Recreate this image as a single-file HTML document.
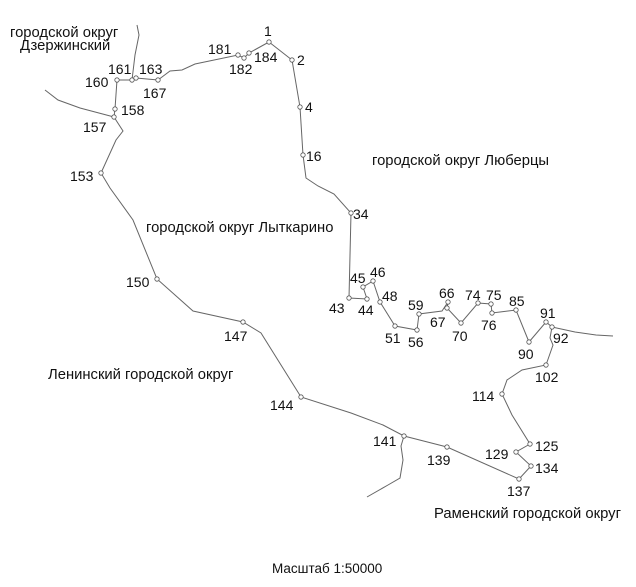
<!DOCTYPE html>
<html><head><meta charset="utf-8"><style>
html,body{margin:0;padding:0;background:#fff;}
svg{display:block;}
text{font-family:"Liberation Sans",Arial,sans-serif;fill:#111;}
.n{font-size:14px;}
.r{font-size:14.8px;}
</style></head><body>
<svg width="636" height="587" viewBox="0 0 636 587" xmlns="http://www.w3.org/2000/svg">
<g fill="none" stroke="#666" stroke-width="1">
<polyline points="269,42 292,60 300,107 303,155 306,178 318,186 334,194 351,213 349,298 367,299 363,287 373,281 380,302 395,326 417,330 419,314 442,311 448,302 447,308 461,323 478,303 491,304 492,313 500,312 516,310 529,342 546,322 552,327 550,338 553,345 546,365 522,370 507,380 502,394 512,415 530,444 516,452 531,466 519,479 447,447 404,436 383,425 351,413 301,397 261,333 243,322 193,311 157,279 133,220 110,188 101,173 116,140 123,131 114,117 115,109 117,80 132,80 136,78 158,80 170,71 182,70 195,64 238,55 244,58 249,53 269,42"/>
<polyline points="137,25 139,35 135,55 132,80"/>
<polyline points="45,90 58,100 80,108 114,117"/>
<polyline points="552,327 575,332 596,335 613,336"/>
<polyline points="404,436 401,446 403,460 400,478 388,485 367,497"/>
</g>
<g fill="#fff" stroke="#555" stroke-width="0.8">
<circle cx="269" cy="42" r="2.2"/><circle cx="292" cy="60" r="2.2"/><circle cx="300" cy="107" r="2.2"/><circle cx="303" cy="155" r="2.2"/><circle cx="351" cy="213" r="2.2"/>
<circle cx="349" cy="298" r="2.2"/><circle cx="367" cy="299" r="2.2"/><circle cx="363" cy="287" r="2.2"/><circle cx="373" cy="281" r="2.2"/><circle cx="380" cy="302" r="2.2"/>
<circle cx="395" cy="326" r="2.2"/><circle cx="417" cy="330" r="2.2"/><circle cx="419" cy="314" r="2.2"/><circle cx="448" cy="302" r="2.2"/><circle cx="447" cy="308" r="2.2"/>
<circle cx="461" cy="323" r="2.2"/><circle cx="478" cy="303" r="2.2"/><circle cx="491" cy="304" r="2.2"/><circle cx="492" cy="313" r="2.2"/><circle cx="516" cy="310" r="2.2"/>
<circle cx="529" cy="342" r="2.2"/><circle cx="546" cy="322" r="2.2"/><circle cx="552" cy="327" r="2.2"/><circle cx="546" cy="365" r="2.2"/><circle cx="502" cy="394" r="2.2"/>
<circle cx="530" cy="444" r="2.2"/><circle cx="516" cy="452" r="2.2"/><circle cx="531" cy="466" r="2.2"/><circle cx="519" cy="479" r="2.2"/><circle cx="447" cy="447" r="2.2"/>
<circle cx="404" cy="436" r="2.2"/><circle cx="301" cy="397" r="2.2"/><circle cx="243" cy="322" r="2.2"/><circle cx="157" cy="279" r="2.2"/><circle cx="101" cy="173" r="2.2"/>
<circle cx="114" cy="117" r="2.2"/><circle cx="115" cy="109" r="2.2"/><circle cx="117" cy="80" r="2.2"/><circle cx="132" cy="80" r="2.2"/><circle cx="136" cy="78" r="2.2"/>
<circle cx="158" cy="80" r="2.2"/><circle cx="238" cy="55" r="2.2"/><circle cx="244" cy="58" r="2.2"/><circle cx="249" cy="53" r="2.2"/>
</g>
<g class="n">
<text x="264" y="36">1</text><text x="297" y="65">2</text><text x="305" y="112">4</text><text x="306" y="161">16</text><text x="353" y="219">34</text>
<text x="329" y="313">43</text><text x="358" y="315">44</text><text x="350" y="283">45</text><text x="370" y="277">46</text><text x="382" y="301">48</text>
<text x="385" y="343">51</text><text x="408" y="347">56</text><text x="408" y="310">59</text><text x="439" y="298">66</text><text x="430" y="327">67</text>
<text x="452" y="341">70</text><text x="465" y="300">74</text><text x="486" y="300">75</text><text x="481" y="330">76</text><text x="509" y="306">85</text>
<text x="518" y="359">90</text><text x="540" y="318">91</text><text x="553" y="343">92</text><text x="535" y="382">102</text><text x="472" y="401">114</text>
<text x="535" y="451">125</text><text x="485" y="459">129</text><text x="535" y="473">134</text><text x="507" y="496">137</text><text x="427" y="465">139</text>
<text x="373" y="446">141</text><text x="270" y="410">144</text><text x="224" y="341">147</text><text x="126" y="287">150</text><text x="70" y="181">153</text>
<text x="83" y="132">157</text><text x="121" y="115">158</text><text x="85" y="87">160</text><text x="108" y="74">161</text><text x="139" y="74">163</text>
<text x="143" y="98">167</text><text x="208" y="54">181</text><text x="229" y="74">182</text><text x="254" y="62">184</text>
</g>
<g class="r">
<text x="10" y="37">городской округ</text>
<text x="20" y="50">Дзержинский</text>
<text x="372" y="165">городской округ Люберцы</text>
<text x="146" y="232">городской округ Лыткарино</text>
<text x="48" y="379">Ленинский городской округ</text>
<text x="434" y="518">Раменский городской округ</text>
<text x="272" y="573" style="font-size:13.5px">Масштаб 1:50000</text>
</g>
</svg>
</body></html>
